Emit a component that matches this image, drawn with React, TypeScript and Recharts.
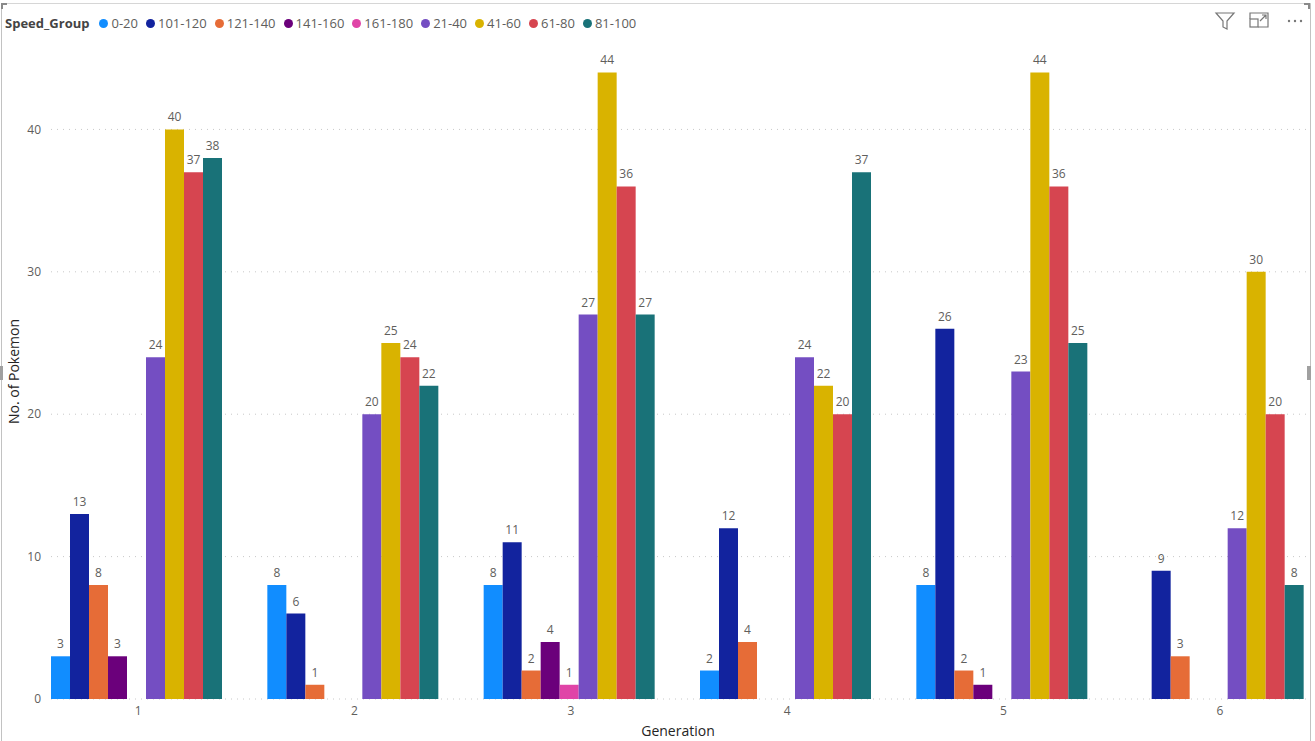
import { BarChart, Bar, XAxis, YAxis, CartesianGrid, LabelList } from 'recharts'

const generations = ['1', '2', '3', '4', '5', '6']
const speedGroups = ['0-20', '101-120', '121-140', '141-160', '161-180', '21-40', '41-60', '61-80', '81-100']
const groupColors = ['#118DFF', '#12239E', '#E66C37', '#6B007B', '#E044A7', '#744EC2', '#D9B300', '#D64550', '#197278']

// values per generation 1..6, null = no pokemon in that group
const speed0to20 = [3, 8, 8, 2, 8, null]
const speed101to120 = [13, 6, 11, 12, 26, 9]
const speed121to140 = [8, 1, 2, 4, 2, 3]
const speed141to160 = [3, null, 4, null, 1, null]
const speed161to180 = [null, null, 1, null, null, null]
const speed21to40 = [24, 20, 27, 24, 23, 12]
const speed41to60 = [40, 25, 44, 22, 44, 30]
const speed61to80 = [37, 24, 36, 20, 36, 20]
const speed81to100 = [38, 22, 27, 37, 25, 8]

const yTicks = [0, 10, 20, 30, 40]

const seriesValues = [
  speed0to20, speed101to120, speed121to140, speed141to160, speed161to180,
  speed21to40, speed41to60, speed61to80, speed81to100,
]

const data = generations.map((g, i) => {
  const row: Record<string, string | number | null> = { generation: g }
  speedGroups.forEach((s, j) => { row[s] = seriesValues[j][i] })
  return row
})

const FONT = '"Segoe UI", "Open Sans", sans-serif'
const LABEL_GREY = '#605E5C'
const TITLE_DARK = '#252423'

function Icons() {
  return (
    <svg width={110} height={24} style={{ position: 'absolute', left: 1205, top: 8 }}>
      <path d="M11 5 L29 5 L22 13 L22 21 L18 19 L18 13 Z" fill="none" stroke="#777" strokeWidth={1.2} />
      <rect x={45} y={11} width={8} height={8} fill="none" stroke="#777" strokeWidth={1.2} />
      <path d="M45 11 L45 5 L63 5 L63 19 L53 19" fill="none" stroke="#777" strokeWidth={1.2} />
      <path d="M55 13 L61 7 M57 7 L61 7 L61 11" fill="none" stroke="#777" strokeWidth={1.2} />
      <circle cx={84} cy={13} r={1.2} fill="#777" />
      <circle cx={90} cy={13} r={1.2} fill="#777" />
      <circle cx={96} cy={13} r={1.2} fill="#777" />
    </svg>
  )
}

export default function App() {
  return (
    <div style={{ position: 'absolute', left: 0, top: 0, width: 1315, height: 741, background: '#fff', overflow: 'hidden', fontFamily: FONT }}>
      <div style={{ position: 'absolute', left: 1, top: 3, width: 1308, height: 740, borderTop: '1px solid #d6d6d6', borderLeft: '1px solid #c2c2c2', borderRight: '1px solid #c2c2c2' }} />
      <div style={{ position: 'absolute', left: 1, top: 3, width: 6, height: 2, background: '#8a8a8a' }} />
      <div style={{ position: 'absolute', left: 1, top: 3, width: 2, height: 6, background: '#8a8a8a' }} />
      <div style={{ position: 'absolute', left: 1304, top: 3, width: 6, height: 2, background: '#8a8a8a' }} />
      <div style={{ position: 'absolute', left: 1308, top: 3, width: 2, height: 6, background: '#8a8a8a' }} />
      <div style={{ position: 'absolute', left: 0, top: 366, width: 3, height: 14, background: '#a0a0a0' }} />
      <div style={{ position: 'absolute', left: 1307, top: 366, width: 4, height: 14, background: '#a0a0a0' }} />

      <div style={{ position: 'absolute', left: 5, top: 14, display: 'flex', alignItems: 'center', fontSize: 13, color: LABEL_GREY, whiteSpace: 'nowrap' }}>
        <span style={{ fontWeight: 700, color: '#444', marginRight: 10 }}>Speed_Group</span>
        {speedGroups.map((s, i) => (
          <span key={s} style={{ display: 'flex', alignItems: 'center', marginRight: 8 }}>
            <span style={{ width: 9, height: 9, borderRadius: 5, background: groupColors[i], marginRight: 3 }} />
            {s}
          </span>
        ))}
      </div>

      <Icons />

      <BarChart
        width={1315}
        height={741}
        data={data}
        margin={{ top: 44, right: 9, bottom: 0, left: 0 }}
        barCategoryGap={21}
        barGap={0}
        style={{ position: 'absolute', left: 0, top: 0 }}
      >
        <CartesianGrid vertical={false} horizontalValues={yTicks} stroke="#c8c8c8" strokeDasharray="1 5" />
        <XAxis
          dataKey="generation"
          height={42}
          padding={{ left: -21, right: -22 }}
          axisLine={false}
          tickLine={false}
          tickSize={0}
          tickMargin={7}
          tick={{ fill: LABEL_GREY, fontSize: 12, fontFamily: FONT }}
          label={{
            content: ({ viewBox }: any) => (
              <text x={678} y={viewBox.y + viewBox.height - 5} textAnchor="middle" fill={TITLE_DARK} fontSize={14} fontFamily={FONT}>
                Generation
              </text>
            ),
          }}
        />
        <YAxis
          width={51}
          domain={[0, 46]}
          ticks={yTicks}
          axisLine={false}
          tickLine={false}
          tickSize={0}
          tickMargin={10}
          tick={{ fill: LABEL_GREY, fontSize: 12, fontFamily: FONT }}
          label={{
            content: ({ viewBox }: any) => {
              const cy = viewBox.y + viewBox.height / 2
              return (
                <text x={19} y={cy} transform={`rotate(-90 19 ${cy})`} textAnchor="middle" fill={TITLE_DARK} fontSize={14} fontFamily={FONT}>
                  No. of Pokemon
                </text>
              )
            },
          }}
        />
        {speedGroups.map((s, i) => (
          <Bar key={s} dataKey={s} fill={groupColors[i]} isAnimationActive={false}>
            <LabelList
              dataKey={s}
              position="top"
              offset={8}
              fill={LABEL_GREY}
              fontSize={12}
              fontFamily={FONT}
              formatter={(v: any) => (v == null ? '' : v)}
            />
          </Bar>
        ))}
      </BarChart>
    </div>
  )
}
